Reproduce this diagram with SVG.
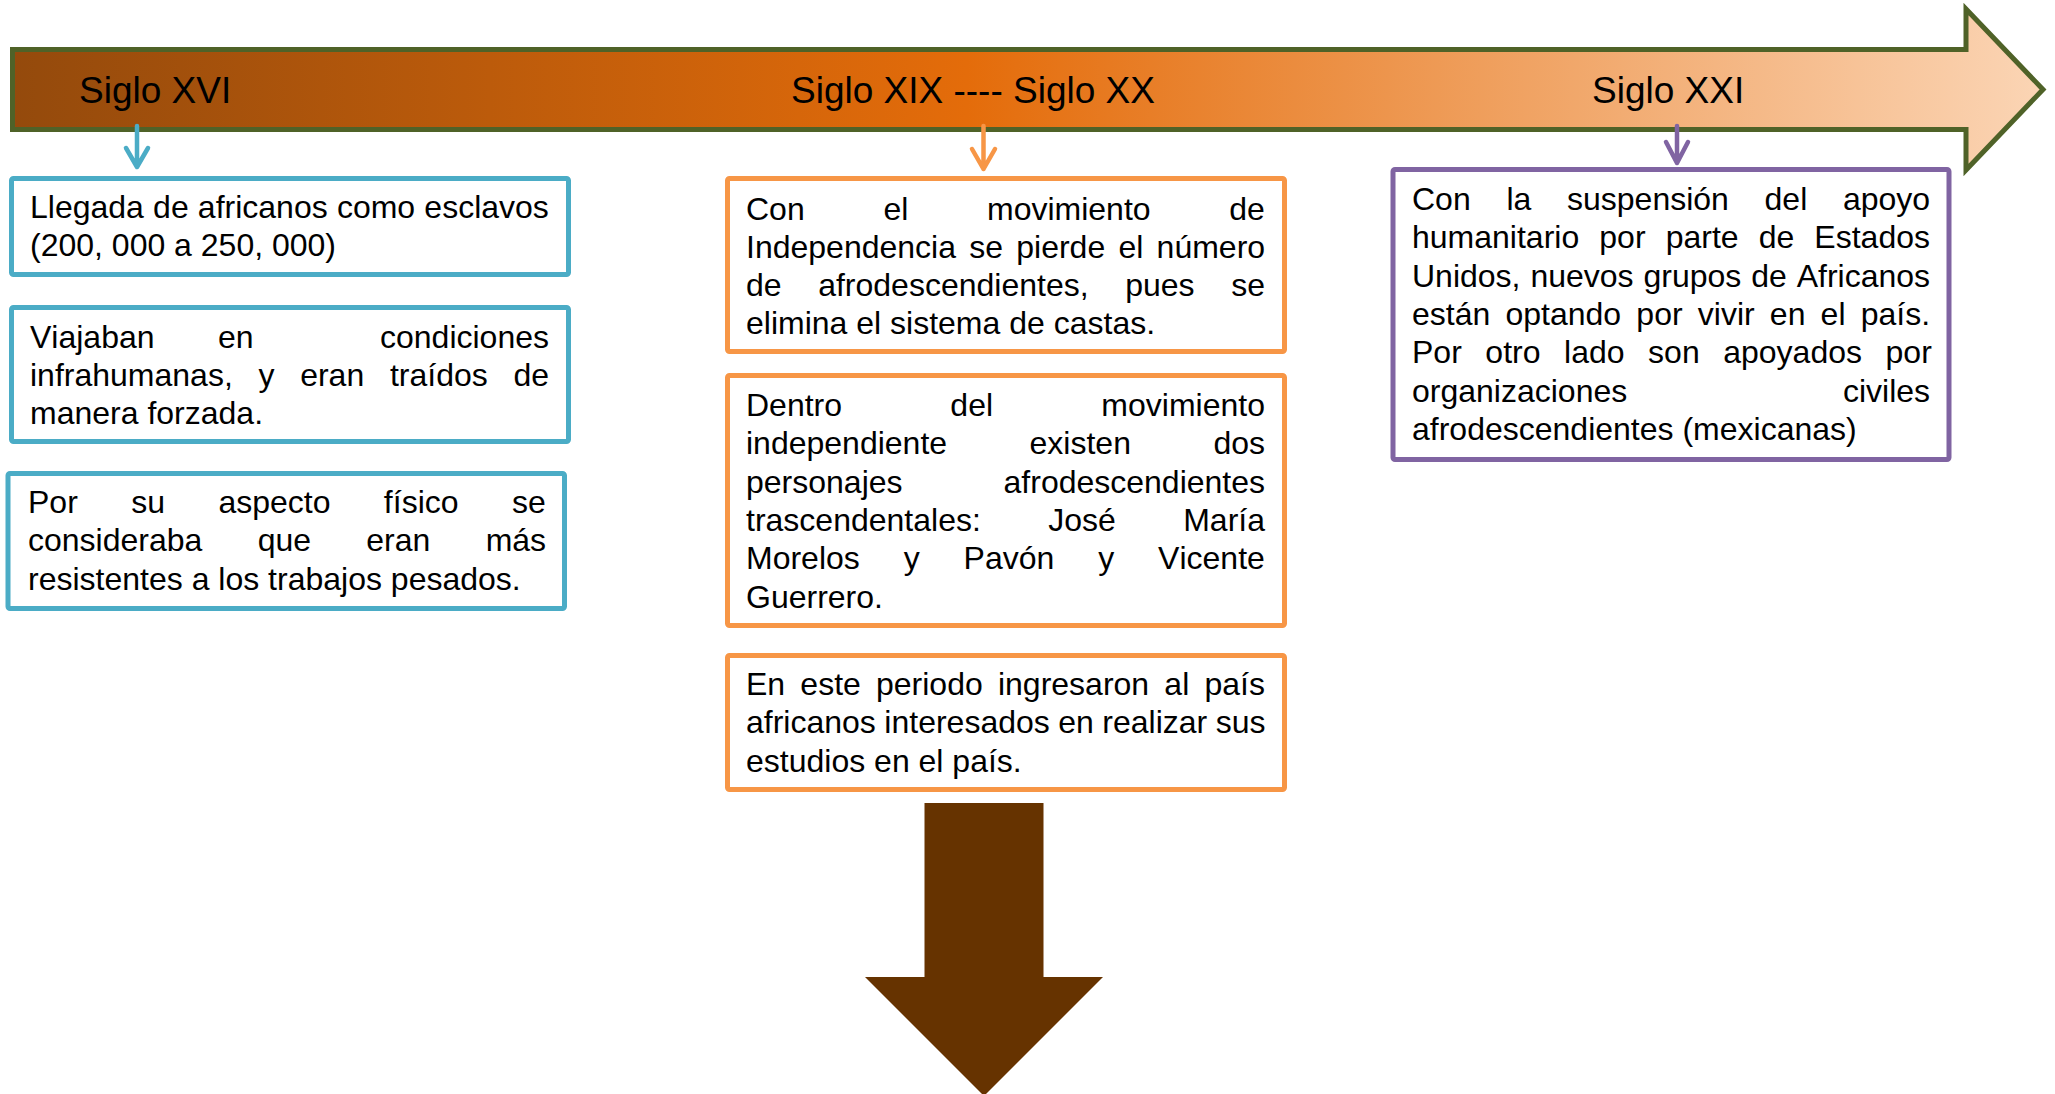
<svg xmlns="http://www.w3.org/2000/svg" width="2055" height="1094" viewBox="0 0 2055 1094">
<style>
  text { font-family: "Liberation Sans", Arial, sans-serif; font-kerning: none; fill: #000; }
  .title { font-size: 37px; }
  .body { font-size: 32px; }
  .box { fill: #fff; stroke-width: 5; }
  .blue { stroke: #4BACC6; }
  .orange { stroke: #F79646; }
  .purple { stroke: #8064A2; }
  .conn { fill: none; stroke-width: 4.5; stroke-linecap: round; stroke-linejoin: round; }
</style>
<defs>
  <linearGradient id="tl" x1="0" y1="0" x2="1" y2="0">
    <stop offset="0" stop-color="#944A0C"/>
    <stop offset="0.47" stop-color="#E46C0A"/>
    <stop offset="1" stop-color="#FBD5B5"/>
  </linearGradient>
</defs>

<g id="timeline">
  <path d="M12.5 49.5 H1966 V9 L2043 89.5 L1966 170 V129.5 H12.5 Z" fill="url(#tl)" stroke="#4F6228" stroke-width="5"/>
  <text class="title" x="79" y="103">Siglo XVI</text>
  <text class="title" x="791" y="103">Siglo XIX ---- Siglo XX</text>
  <text class="title" x="1592" y="103">Siglo XXI</text>
</g>

<g id="connectors">
  <path class="conn blue" d="M137 126 V167 M126 148 L137 167 L148 148"/>
  <path class="conn orange" d="M983.5 126 V169 M972 149 L983.5 169 L995 149"/>
  <path class="conn purple" d="M1677 126 V163 M1666 142 L1677 163 L1688 142"/>
</g>

<g id="box-llegada">
  <rect class="box blue" x="11.5" y="178.5" width="557" height="96" rx="2"/>
  <text class="body" x="30" y="218" style="word-spacing:0.3px">Llegada de africanos como esclavos</text>
  <text class="body" x="30" y="256">(200, 000 a 250, 000)</text>
</g>

<g id="box-viajaban">
  <rect class="box blue" x="11.5" y="307.5" width="557" height="134" rx="2"/>
  <text class="body" y="348"><tspan x="30">Viajaban</tspan><tspan x="218">en</tspan><tspan x="380">condiciones</tspan></text>
  <text class="body" x="30" y="386" style="word-spacing:16.8px">infrahumanas, y eran traídos de</text>
  <text class="body" x="30" y="424">manera forzada.</text>
</g>

<g id="box-aspecto">
  <rect class="box blue" x="8" y="473.5" width="556.5" height="135" rx="2"/>
  <text class="body" x="28" y="513" style="word-spacing:44.5px">Por su aspecto físico se</text>
  <text class="body" x="28" y="551" style="word-spacing:46.4px">consideraba que eran más</text>
  <text class="body" x="28" y="590">resistentes a los trabajos pesados.</text>
</g>

<g id="box-independencia">
  <rect class="box orange" x="727.5" y="178.5" width="557" height="173" rx="2"/>
  <text class="body" x="746" y="220" style="word-spacing:69.8px">Con el movimiento de</text>
  <text class="body" x="746" y="258" style="word-spacing:4.35px">Independencia se pierde el número</text>
  <text class="body" x="746" y="296" style="word-spacing:27.7px">de afrodescendientes, pues se</text>
  <text class="body" x="746" y="334">elimina el sistema de castas.</text>
</g>

<g id="box-personajes">
  <rect class="box orange" x="727.5" y="375.5" width="557" height="250" rx="2"/>
  <text class="body" x="746" y="416" style="word-spacing:99.4px">Dentro del movimiento</text>
  <text class="body" x="746" y="454" style="word-spacing:73.6px">independiente existen dos</text>
  <text class="body" x="746" y="493" style="word-spacing:92.1px">personajes afrodescendientes</text>
  <text class="body" x="746" y="531" style="word-spacing:58.5px">trascendentales: José María</text>
  <text class="body" x="746" y="569" style="word-spacing:35px">Morelos y Pavón y Vicente</text>
  <text class="body" x="746" y="608">Guerrero.</text>
</g>

<g id="box-estudios">
  <rect class="box orange" x="727.5" y="655.5" width="557" height="134" rx="2"/>
  <text class="body" x="746" y="695" style="word-spacing:6.3px">En este periodo ingresaron al país</text>
  <text class="body" x="746" y="733" style="word-spacing:-0.4px">africanos interesados en realizar sus</text>
  <text class="body" x="746" y="772">estudios en el país.</text>
</g>

<g id="box-siglo-xxi">
  <rect class="box purple" x="1393" y="169.5" width="556" height="290" rx="2"/>
  <text class="body" x="1412" y="210" style="word-spacing:26.8px">Con la suspensión del apoyo</text>
  <text class="body" x="1412" y="248" style="word-spacing:11.2px">humanitario por parte de Estados</text>
  <text class="body" x="1412" y="287" style="word-spacing:1px">Unidos, nuevos grupos de Africanos</text>
  <text class="body" x="1412" y="325" style="word-spacing:6.3px">están optando por vivir en el país.</text>
  <text class="body" x="1412" y="363" style="word-spacing:14.66px">Por otro lado son apoyados por</text>
  <text class="body" x="1412" y="402" style="word-spacing:206.8px">organizaciones civiles</text>
  <text class="body" x="1412" y="440">afrodescendientes (mexicanas)</text>
</g>

<g id="down-arrow">
  <polygon points="924.5,803 1043.5,803 1043.5,977 1103,977 984,1096 865,977 924.5,977" fill="#663300"/>
</g>
</svg>
